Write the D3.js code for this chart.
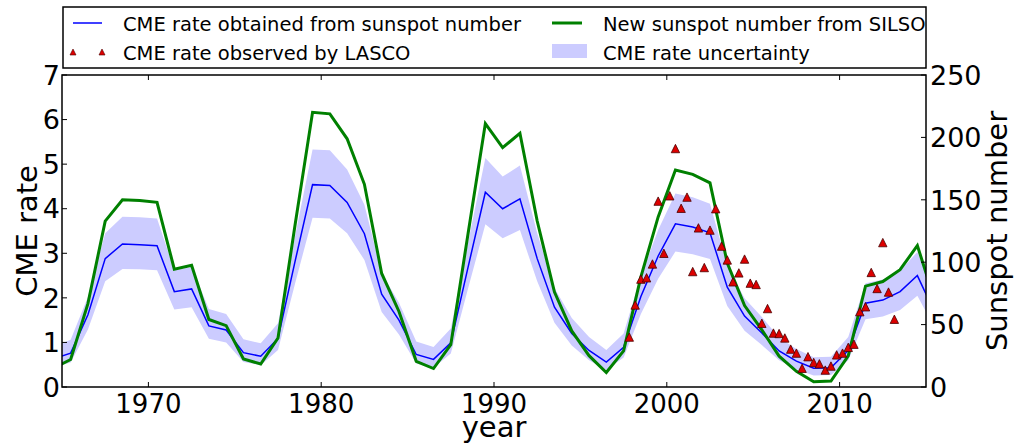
<!DOCTYPE html>
<html>
<head>
<meta charset="utf-8">
<script src="https://cdn.jsdelivr.net/npm/d3@7"></script>
<style>
  body { margin: 0; background: #fff; }
  svg text { font-family: "DejaVu Sans", sans-serif; fill: #000; }
</style>
</head>
<body>
<div id="chart"></div>
<script>
// yearly points (mid-year)
const years = [1964.5, 1965.5, 1966.5, 1967.5, 1968.5, 1969.5, 1970.5, 1971.5, 1972.5, 1973.5,
  1974.5, 1975.5, 1976.5, 1977.5, 1978.5, 1979.5, 1980.5, 1981.5, 1982.5, 1983.5,
  1984.5, 1985.5, 1986.5, 1987.5, 1988.5, 1989.5, 1990.5, 1991.5, 1992.5, 1993.5,
  1994.5, 1995.5, 1996.5, 1997.5, 1998.5, 1999.5, 2000.5, 2001.5, 2002.5, 2003.5,
  2004.5, 2005.5, 2006.5, 2007.5, 2008.5, 2009.5, 2010.5, 2011.5, 2012.5, 2013.5,
  2014.5, 2015.5];

// new sunspot number (SILSO), right axis
const sunspot = [15.0, 22.0, 66.8, 132.9, 150.0, 149.4, 148.0, 94.4, 97.6, 54.1,
  49.2, 22.5, 18.4, 39.3, 131.0, 220.1, 218.9, 198.9, 162.4, 91.0,
  60.5, 20.6, 14.8, 33.9, 123.0, 211.1, 191.8, 203.3, 133.0, 76.1,
  44.9, 25.1, 11.6, 28.9, 88.3, 136.3, 173.9, 170.4, 163.6, 99.3,
  65.3, 45.8, 24.7, 12.6, 4.2, 4.8, 24.9, 80.8, 84.5, 94.0,
  113.3, 69.8];

// CME rate obtained from sunspot number, left axis
const cmeRate = [0.63, 0.76, 1.62, 2.88, 3.21, 3.19, 3.17, 2.14, 2.20, 1.37,
  1.28, 0.77, 0.69, 1.09, 2.84, 4.54, 4.52, 4.14, 3.44, 2.08,
  1.50, 0.73, 0.62, 0.99, 2.69, 4.37, 4.00, 4.22, 2.88, 1.79,
  1.20, 0.82, 0.56, 0.89, 2.03, 2.94, 3.66, 3.59, 3.46, 2.24,
  1.59, 1.21, 0.81, 0.58, 0.42, 0.43, 0.82, 1.88, 1.95, 2.14,
  2.50, 1.67];

const cmeUpper = [0.90, 1.06, 2.02, 3.45, 3.82, 3.81, 3.78, 2.62, 2.69, 1.75,
  1.64, 1.07, 0.98, 1.43, 3.41, 5.33, 5.31, 4.88, 4.09, 2.55,
  1.89, 1.02, 0.90, 1.31, 3.24, 5.14, 4.72, 4.97, 3.45, 2.22,
  1.55, 1.12, 0.83, 1.20, 2.49, 3.52, 4.34, 4.26, 4.11, 2.72,
  1.99, 1.57, 1.11, 0.85, 0.67, 0.68, 1.12, 2.33, 2.41, 2.61,
  3.03, 2.09];

const cmeLower = [0.44, 0.55, 1.29, 2.37, 2.65, 2.64, 2.62, 1.74, 1.79, 1.08,
  1.00, 0.56, 0.49, 0.83, 2.34, 3.80, 3.78, 3.45, 2.85, 1.68,
  1.18, 0.53, 0.43, 0.75, 2.21, 3.65, 3.34, 3.52, 2.37, 1.44,
  0.93, 0.60, 0.38, 0.66, 1.64, 2.43, 3.04, 2.98, 2.87, 1.82,
  1.26, 0.94, 0.60, 0.40, 0.26, 0.27, 0.60, 1.52, 1.58, 1.73,
  2.05, 1.33];

// LASCO observed CME rate (4-month bins)
const lascoYears = [1997.83, 1998.17, 1998.5, 1998.83, 1999.17, 1999.5, 1999.83, 2000.17, 2000.5, 2000.83,
  2001.17, 2001.5, 2001.83, 2002.17, 2002.5, 2002.83, 2003.17, 2003.5, 2003.83, 2004.17,
  2004.5, 2004.83, 2005.17, 2005.5, 2005.83, 2006.17, 2006.5, 2006.83, 2007.17, 2007.5,
  2007.83, 2008.17, 2008.5, 2008.83, 2009.17, 2009.5, 2009.83, 2010.17, 2010.5, 2010.83,
  2011.17, 2011.5, 2011.83, 2012.17, 2012.5, 2012.83, 2013.17];
const lascoRate = [1.12, 1.84, 2.42, 2.45, 2.76, 4.17, 3.00, 4.29, 5.35, 4.01,
  4.26, 2.59, 3.57, 2.68, 3.52, 4.00, 3.16, 2.85, 2.36, 2.56,
  2.87, 2.33, 2.30, 1.43, 1.76, 1.21, 1.20, 1.10, 0.85, 0.76,
  0.42, 0.68, 0.55, 0.52, 0.38, 0.47, 0.72, 0.76, 0.89, 0.96,
  1.69, 1.80, 2.57, 2.21, 3.24, 2.13, 1.52];

const xTicks = [1970, 1980, 1990, 2000, 2010];
const leftTicks = [0, 1, 2, 3, 4, 5, 6, 7];
const rightTicks = [0, 50, 100, 150, 200, 250];

const width = 1018, height = 444;
const plot = { left: 62, right: 926, top: 75, bottom: 387 };

const x = d3.scaleLinear().domain([1965, 2015]).range([plot.left, plot.right]);
const yL = d3.scaleLinear().domain([0, 7]).range([plot.bottom, plot.top]);
const yR = d3.scaleLinear().domain([0, 250]).range([plot.bottom, plot.top]);

const svg = d3.select("#chart").append("svg")
  .attr("width", width)
  .attr("height", height);

svg.append("defs").append("clipPath")
  .attr("id", "clip")
  .append("rect")
  .attr("x", plot.left)
  .attr("y", plot.top)
  .attr("width", plot.right - plot.left)
  .attr("height", plot.bottom - plot.top);

const g = svg.append("g").attr("clip-path", "url(#clip)");

// uncertainty band
const band = years.map((yr, i) => ({ yr, lo: cmeLower[i], hi: cmeUpper[i] }));
g.append("path")
  .datum(band)
  .attr("fill", "#ccccff")
  .attr("stroke", "none")
  .attr("d", d3.area().x(d => x(d.yr)).y0(d => yL(d.lo)).y1(d => yL(d.hi)));

// CME rate from sunspot number
g.append("path")
  .datum(years.map((yr, i) => [yr, cmeRate[i]]))
  .attr("fill", "none")
  .attr("stroke", "#0000ff")
  .attr("stroke-width", 1.5)
  .attr("d", d3.line().x(d => x(d[0])).y(d => yL(d[1])));

// sunspot number
g.append("path")
  .datum(years.map((yr, i) => [yr, sunspot[i]]))
  .attr("fill", "none")
  .attr("stroke", "#008000")
  .attr("stroke-width", 3)
  .attr("stroke-linejoin", "miter")
  .attr("d", d3.line().x(d => x(d[0])).y(d => yR(d[1])));

// LASCO triangles
const tri = s => `M0,${-s}L${s},${s}L${-s},${s}Z`;
g.selectAll(".lasco")
  .data(lascoYears.map((yr, i) => [yr, lascoRate[i]]))
  .join("path")
  .attr("class", "lasco")
  .attr("transform", d => `translate(${x(d[0])},${yL(d[1])})`)
  .attr("d", tri(4.2))
  .attr("fill", "#dd0000")
  .attr("stroke", "#4a0000")
  .attr("stroke-width", 0.8);

// frame
svg.append("rect")
  .attr("x", plot.left)
  .attr("y", plot.top)
  .attr("width", plot.right - plot.left)
  .attr("height", plot.bottom - plot.top)
  .attr("fill", "none")
  .attr("stroke", "#000")
  .attr("stroke-width", 1.5);

// ticks, pointing inwards
const tickLen = 5;
svg.append("g").selectAll("line")
  .data(xTicks)
  .join("line")
  .attr("x1", d => x(d)).attr("x2", d => x(d))
  .attr("y1", plot.bottom).attr("y2", plot.bottom - tickLen)
  .attr("stroke", "#000");
svg.append("g").selectAll("line")
  .data(xTicks)
  .join("line")
  .attr("x1", d => x(d)).attr("x2", d => x(d))
  .attr("y1", plot.top).attr("y2", plot.top + tickLen)
  .attr("stroke", "#000");
svg.append("g").selectAll("line")
  .data(leftTicks)
  .join("line")
  .attr("x1", plot.left).attr("x2", plot.left + tickLen)
  .attr("y1", d => yL(d)).attr("y2", d => yL(d))
  .attr("stroke", "#000");
svg.append("g").selectAll("line")
  .data(rightTicks)
  .join("line")
  .attr("x1", plot.right).attr("x2", plot.right - tickLen)
  .attr("y1", d => yR(d)).attr("y2", d => yR(d))
  .attr("stroke", "#000");

// tick labels
svg.append("g").selectAll("text")
  .data(xTicks)
  .join("text")
  .attr("x", d => x(d))
  .attr("y", 413)
  .attr("text-anchor", "middle")
  .style("font-size", "26px")
  .text(d => d);
svg.append("g").selectAll("text")
  .data(leftTicks)
  .join("text")
  .attr("x", 60)
  .attr("y", d => yL(d))
  .attr("dy", "0.36em")
  .attr("text-anchor", "end")
  .style("font-size", "27px")
  .text(d => d);
svg.append("g").selectAll("text")
  .data(rightTicks)
  .join("text")
  .attr("x", 930)
  .attr("y", d => yR(d))
  .attr("dy", "0.36em")
  .attr("text-anchor", "start")
  .style("font-size", "27px")
  .text(d => d);

// axis titles
svg.append("text")
  .attr("x", (plot.left + plot.right) / 2)
  .attr("y", 437)
  .attr("text-anchor", "middle")
  .style("font-size", "29px")
  .text("year");
svg.append("text")
  .attr("transform", `translate(37,${(plot.top + plot.bottom) / 2}) rotate(-90)`)
  .attr("text-anchor", "middle")
  .style("font-size", "29px")
  .text("CME rate");
svg.append("text")
  .attr("transform", `translate(1007,${(plot.top + plot.bottom) / 2}) rotate(-90)`)
  .attr("text-anchor", "middle")
  .style("font-size", "29px")
  .text("Sunspot number");

// legend
const legend = svg.append("g");
legend.append("rect")
  .attr("x", 63)
  .attr("y", 7)
  .attr("width", plot.right - 63)
  .attr("height", 61)
  .attr("fill", "#fff")
  .attr("stroke", "#000")
  .attr("stroke-width", 1.5);

legend.append("line")
  .attr("x1", 73).attr("x2", 102)
  .attr("y1", 23).attr("y2", 23)
  .attr("stroke", "#0000ff")
  .attr("stroke-width", 1.5);
legend.selectAll(".leg-tri")
  .data([73, 102])
  .join("path")
  .attr("class", "leg-tri")
  .attr("transform", d => `translate(${d},52)`)
  .attr("d", tri(3))
  .attr("fill", "#dd0000")
  .attr("stroke", "#4a0000")
  .attr("stroke-width", 0.6);
legend.append("line")
  .attr("x1", 552).attr("x2", 582)
  .attr("y1", 23).attr("y2", 23)
  .attr("stroke", "#008000")
  .attr("stroke-width", 3);
legend.append("rect")
  .attr("x", 552)
  .attr("y", 44)
  .attr("width", 35)
  .attr("height", 14)
  .attr("fill", "#ccccff");

const legendLabels = [
  { x: 123, y: 31, text: "CME rate obtained from sunspot number" },
  { x: 123, y: 60, text: "CME rate observed by LASCO" },
  { x: 603, y: 31, text: "New sunspot number from SILSO" },
  { x: 603, y: 60, text: "CME rate uncertainty" }
];
legend.selectAll(".leg-label")
  .data(legendLabels)
  .join("text")
  .attr("class", "leg-label")
  .attr("x", d => d.x)
  .attr("y", d => d.y)
  .style("font-size", "19.5px")
  .text(d => d.text);
</script>
</body>
</html>
